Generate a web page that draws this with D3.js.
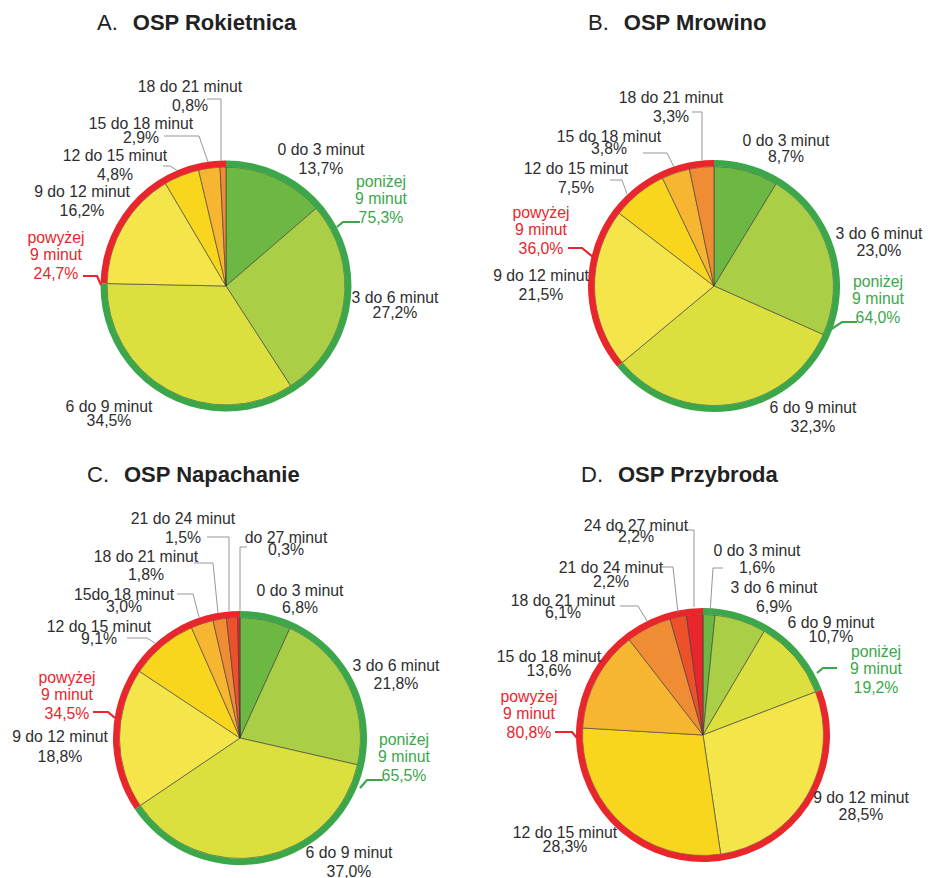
<html>
<script src='https://d3js.org/d3.v7.min.js'></script>
<body style="margin:0;background:#fff">
<div id='vis'></div>
<script>
    // chart values (percent of responses per time bin, clockwise from 12 o'clock)
    const titleLetters = ['A.', 'B.', 'C.', 'D.'];
    const titleNames = ['OSP Rokietnica', 'OSP Mrowino', 'OSP Napachanie', 'OSP Przybroda'];

    const binColors = ['#6cb843', '#aacf47', '#dbe03e', '#f4e64a', '#f9d61e', '#f7b632', '#f08c34', '#ec512a', '#e8262c'];

    const labelsA = ['0 do 3 minut', '3 do 6 minut', '6 do 9 minut', '9 do 12 minut', '12 do 15 minut', '15 do 18 minut', '18 do 21 minut'];
    const valuesA = [13.7, 27.2, 34.5, 16.2, 4.8, 2.9, 0.8];

    const labelsB = ['0 do 3 minut', '3 do 6 minut', '6 do 9 minut', '9 do 12 minut', '12 do 15 minut', '15 do 18 minut', '18 do 21 minut'];
    const valuesB = [8.7, 23.0, 32.3, 21.5, 7.5, 3.8, 3.3];

    const labelsC = ['0 do 3 minut', '3 do 6 minut', '6 do 9 minut', '9 do 12 minut', '12 do 15 minut', '15do 18 minut', '18 do 21 minut', '21 do 24 minut', 'do 27 minut'];
    const valuesC = [6.8, 21.8, 37.0, 18.8, 9.1, 3.0, 1.8, 1.5, 0.3];

    const labelsD = ['0 do 3 minut', '3 do 6 minut', '6 do 9 minut', '9 do 12 minut', '12 do 15 minut', '15 do 18 minut', '18 do 21 minut', '21 do 24 minut', '24 do 27 minut'];
    const valuesD = [1.6, 6.9, 10.7, 28.5, 28.3, 13.6, 6.1, 2.2, 2.2];

    const below9 = [75.3, 64.0, 65.5, 19.2];
    const above9 = [24.7, 36.0, 34.5, 80.8];
    const binsBelow9 = 3;

    // layout: pie centre / radius, title and label placement
    const layout = [
        {
            cx: 226, cy: 286, r: 125.5, title: [97, 30],
            labels: [[321, 155, 19], [395, 303, 15], [109, 412, 14], [82, 197, 19], [115, 161, 19], [141, 129, 14], [190, 92, 19]],
            leaders: {4: [[163, 166], [170, 166], [178, 171]], 5: [[164, 136], [199, 136], [208, 162]], 6: [[207, 99], [221, 99], [221, 161]]},
            green: [381, 187, [[337, 227], [343, 222], [360, 222]]],
            red: [56, 243, [[83, 276], [97, 276], [101, 285]]]
        },
        {
            cx: 714, cy: 286, r: 126, title: [588, 30],
            labels: [[786, 146, 16], [879, 239, 17], [813, 413, 19], [541, 281, 19], [576, 174, 19], [609, 142, 12], [671, 103, 19]],
            leaders: {4: [[610, 180], [622, 180], [627, 194]], 5: [[643, 153], [667, 153], [674, 167]], 6: [[692, 112], [702, 112], [702, 160]]},
            green: [878, 287, [[827, 332], [842, 322], [857, 322]]],
            red: [541, 218, [[568, 248], [582, 248], [593, 257]]]
        },
        {
            cx: 240, cy: 738, r: 127, title: [87, 482],
            labels: [[300, 596, 17], [396, 671, 18], [349, 858, 19], [60, 742, 20], [99, 632, 12], [124, 600, 12], [146, 562, 18], [183, 524, 19], [286, 543, 12]],
            leaders: {4: [[127, 638], [147, 638], [155, 643]], 5: [[177, 594], [193, 594], [199, 617]], 6: [[194, 563], [213, 563], [218, 613]],
                7: [[207, 537], [229, 537], [229, 611]], 8: [[247, 547], [240, 547], [240, 611]]},
            green: [404, 745, [[360, 788], [367, 780], [383, 780]]],
            red: [67, 683, [[93, 712], [108, 712], [115, 718]]]
        },
        {
            cx: 703, cy: 735, r: 127, title: [581, 482],
            labels: [[757, 556, 17], [774, 593, 19], [831, 628, 14], [861, 803, 17], [565, 838, 14], [549, 662, 14], [563, 606, 12], [611, 573, 14], [636, 531, 11]],
            leaders: {0: [[723, 568], [713, 568], [710, 613]], 6: [[620, 606], [638, 606], [647, 621]], 7: [[660, 567], [673, 567], [678, 613]],
                8: [[686, 530], [694, 530], [694, 607]]},
            green: [876, 657, [[817, 673], [823, 668], [837, 668]]],
            red: [529, 702, [[555, 732], [572, 732], [577, 738]]]
        }
    ];

    const charts = [
        {labels: labelsA, values: valuesA},
        {labels: labelsB, values: valuesB},
        {labels: labelsC, values: valuesC},
        {labels: labelsD, values: valuesD}
    ];

    const GREEN = '#3ba74a', RED = '#e8262c', TEXT = '#2e2e2e';
    const fmt = v => d3.format('.1f')(v).replace('.', ',') + '%';
    const ringW = 6.5;

    const svg = d3.select('#vis').append('svg')
        .attr('width', 929).attr('height', 878)
        .style('font-family', "'Liberation Sans', Arial, sans-serif");

    const pie = d3.pie().sort(null).value(d => d);
    const line = d3.line();

    charts.forEach((c, ci) => {
        const L = layout[ci];
        const arcs = pie(c.values);
        const g = svg.append('g').attr('transform', `translate(${L.cx},${L.cy})`);

        // slices
        const arc = d3.arc().innerRadius(0).outerRadius(L.r - ringW);
        g.selectAll('path.slice').data(arcs).join('path')
            .attr('class', 'slice')
            .attr('d', arc)
            .attr('fill', (d, i) => binColors[i])
            .attr('stroke', '#3a3a3a')
            .attr('stroke-width', 0.6);

        // outer ring: below / above 9 minutes
        const split = arcs[binsBelow9 - 1].endAngle;
        const ring = d3.arc().innerRadius(L.r - ringW).outerRadius(L.r);
        g.append('path').attr('d', ring({startAngle: 0, endAngle: split})).attr('fill', GREEN);
        g.append('path').attr('d', ring({startAngle: split, endAngle: 2 * Math.PI})).attr('fill', RED);

        // title
        const t = svg.append('text').attr('x', L.title[0]).attr('y', L.title[1])
            .attr('font-size', 22).attr('fill', '#222');
        t.append('tspan').text(titleLetters[ci]);
        t.append('tspan').attr('dx', 15).attr('font-weight', 'bold').text(titleNames[ci]);

        // leaders for small slices
        Object.entries(L.leaders).forEach(([k, pts]) => {
            svg.append('path').attr('d', line(pts))
                .attr('fill', 'none').attr('stroke', '#8a8a8a').attr('stroke-width', 0.9);
        });

        // slice labels
        c.labels.forEach((name, i) => {
            const [x, y, gap] = L.labels[i];
            const lt = svg.append('text').attr('text-anchor', 'middle')
                .attr('font-size', 15.8).attr('fill', TEXT);
            lt.append('tspan').attr('x', x).attr('y', y).text(name);
            lt.append('tspan').attr('x', x).attr('y', y + gap).text(fmt(c.values[i]));
        });

        // summary labels
        [[L.green, 'poniżej', below9[ci], GREEN], [L.red, 'powyżej', above9[ci], RED]].forEach(([s, word, v, col]) => {
            svg.append('path').attr('d', line(s[2]))
                .attr('fill', 'none').attr('stroke', col).attr('stroke-width', 2.2);
            const st = svg.append('text').attr('text-anchor', 'middle')
                .attr('font-size', 15.8).attr('fill', col);
            st.append('tspan').attr('x', s[0]).attr('y', s[1]).text(word);
            st.append('tspan').attr('x', s[0]).attr('y', s[1] + 17).text('9 minut');
            st.append('tspan').attr('x', s[0]).attr('y', s[1] + 36).text(fmt(v));
        });
    });
</script>
</body>
</html>
